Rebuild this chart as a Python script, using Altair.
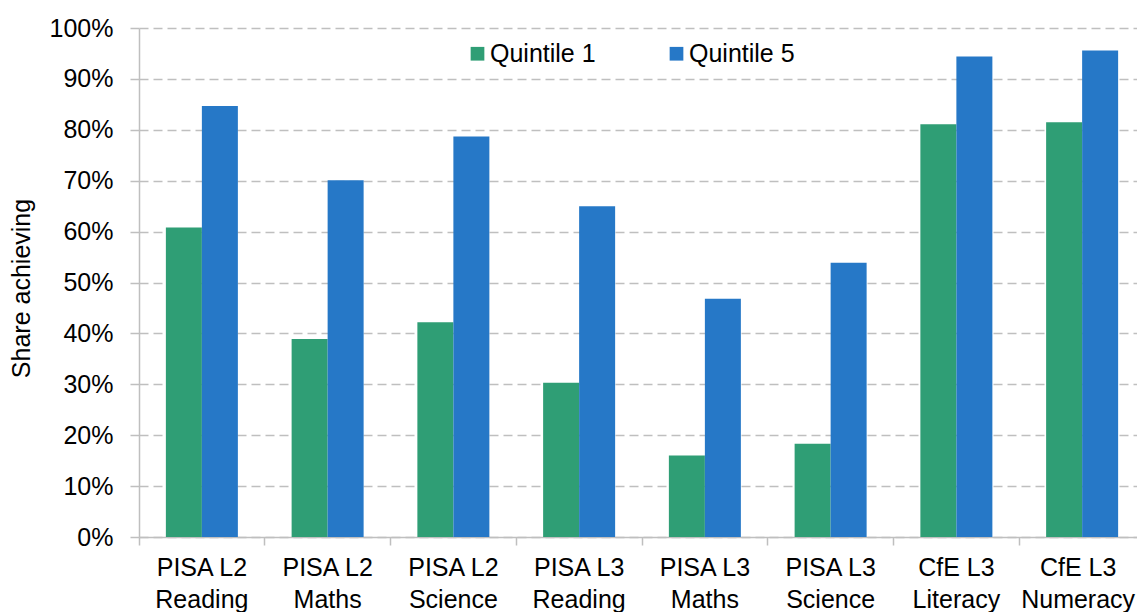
import altair as alt
import pandas as pd

categories = ["PISA L2\nReading", "PISA L2\nMaths", "PISA L2\nScience", "PISA L3\nReading",
              "PISA L3\nMaths", "PISA L3\nScience", "CfE L3\nLiteracy", "CfE L3\nNumeracy"]
quintile1 = [0.608, 0.389, 0.422, 0.303, 0.160, 0.183, 0.811, 0.815]
quintile5 = [0.847, 0.701, 0.787, 0.650, 0.468, 0.539, 0.944, 0.956]
series = ["Quintile 1", "Quintile 5"]
colors = ["#2F9E75", "#2678C7"]
y_ticks = [0, 0.1, 0.2, 0.3, 0.4, 0.5, 0.6, 0.7, 0.8, 0.9, 1.0]

rows = []
for c, a, b in zip(categories, quintile1, quintile5):
    rows.append({"cat": c, "series": series[0], "value": a})
    rows.append({"cat": c, "series": series[1], "value": b})
df = pd.DataFrame(rows)

FONT = "Liberation Sans"
GRAY = "#BFBFBF"

chart = alt.Chart(df).mark_bar().encode(
    x=alt.X("cat:N", sort=categories,
            scale=alt.Scale(paddingInner=0, paddingOuter=0),
            axis=alt.Axis(title=None, labelAngle=0, labelExpr="split(datum.label, '\\n')",
                          labelFontSize=25, labelFont=FONT, labelColor="black",
                          labelLineHeight=32, labelPadding=10, bandPosition=0,
                          labelOffset={"condition": {"test": "indexof(datum.value, 'Numeracy') >= 0",
                                                     "value": -4}, "value": 0},
                          tickSize=8, tickColor=GRAY, domainColor=GRAY, domainWidth=1.5,
                          tickWidth=1.5, grid=False)),
    xOffset=alt.XOffset("series:N", sort=series,
                        scale=alt.Scale(paddingInner=0, paddingOuter=0.7465)),
    y=alt.Y("value:Q", scale=alt.Scale(domain=[0, 1], nice=False),
            axis=alt.Axis(title="Share achieving", values=y_ticks, format=".0%",
                          labelFontSize=25, labelFont=FONT, labelColor="black",
                          labelPadding=17, tickSize=9, tickColor=GRAY, tickWidth=1.5,
                          domainColor=GRAY, domainWidth=1.5,
                          titleFontSize=25, titleFont=FONT, titleFontWeight="normal",
                          titleColor="black", titleX=-105, titleY=260,
                          grid=True, gridColor=GRAY, gridDash=[9, 5], gridWidth=1.5)),
    color=alt.Color("series:N", sort=series,
                    scale=alt.Scale(domain=series, range=colors),
                    legend=alt.Legend(title=None, orient="none", legendX=326, legendY=13,
                                      direction="horizontal", symbolType="square",
                                      symbolSize=188, symbolStrokeWidth=0,
                                      labelFontSize=25, labelFont=FONT, labelColor="black",
                                      labelOffset=0, columnPadding=68)),
).properties(
    width=1006, height=509,
    autosize=alt.AutoSizeParams(type="none"),
    padding={"left": 131, "top": 20, "right": -8, "bottom": 75},
).configure_view(stroke=None)

chart.save("out.html", embed_options={"renderer": "svg", "actions": False})
